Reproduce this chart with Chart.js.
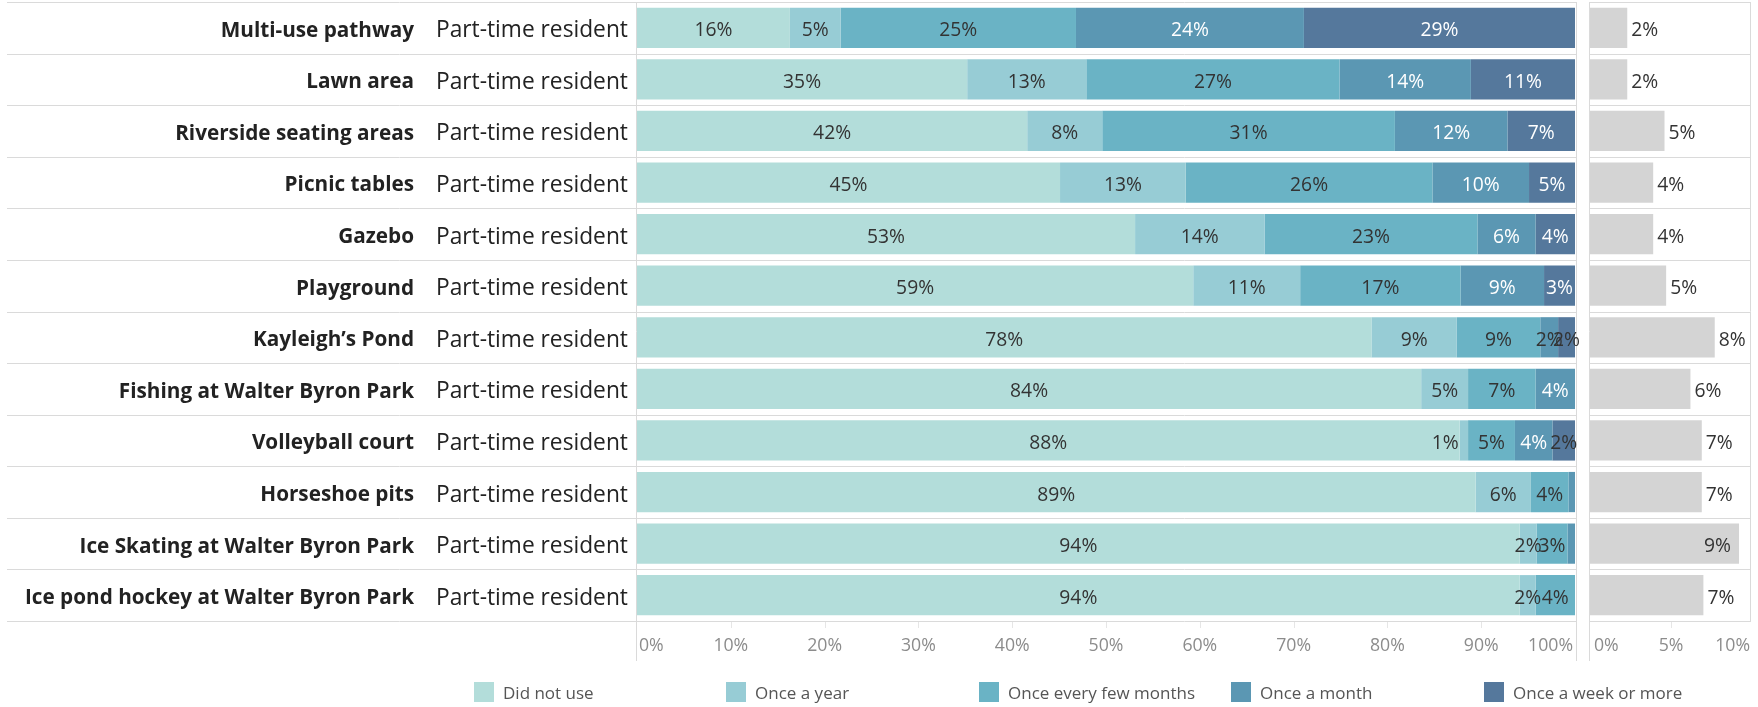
<!DOCTYPE html>
<html>
<head>
<meta charset="utf-8">
<script src="https://cdn.jsdelivr.net/npm/chart.js@4.4.1/dist/chart.umd.min.js"></script>
<style>
  html, body { margin: 0; padding: 0; background: #fff; }
  #wrap { position: relative; width: 1758px; height: 707px; overflow: hidden; font-family: "Open Sans", sans-serif; }
  #mainBox { position: absolute; left: 0; top: 0; width: 1582px; height: 707px; }
  #sideBox { position: absolute; left: 1582px; top: 0; width: 176px; height: 707px; }
  #legend { position: absolute; left: 0; top: 681px; width: 1758px; height: 22px; }
  .lg { position: absolute; top: 0; height: 22px; display: flex; align-items: center; font-size: 17px; color: #555; white-space: nowrap; }
  .lg i { display: inline-block; width: 20px; height: 20px; margin-right: 9px; }
</style>
</head>
<body>
<div id="wrap">
  <div id="mainBox"><canvas id="mainChart" width="1582" height="707"></canvas></div>
  <div id="sideBox"><canvas id="sideChart" width="176" height="707"></canvas></div>
  <div id="legend"></div>
</div>
<script>
// facilities, top to bottom
var categories = [
  "Multi-use pathway",
  "Lawn area",
  "Riverside seating areas",
  "Picnic tables",
  "Gazebo",
  "Playground",
  "Kayleigh\u2019s Pond",
  "Fishing at Walter Byron Park",
  "Volleyball court",
  "Horseshoe pits",
  "Ice Skating at Walter Byron Park",
  "Ice pond hockey at Walter Byron Park"
];
var groupLabel = "Part-time resident";

var seriesNames = ["Did not use", "Once a year", "Once every few months", "Once a month", "Once a week or more"];
var seriesColors = ["#b3ddda", "#97ccd5", "#6ab3c5", "#5b97b3", "#55789c"];

// percent of respondents
var didNotUse      = [16.3, 35.2, 41.6, 45.1, 53.1, 59.3, 78.3, 83.6, 87.7, 89.4, 94.1, 94.1];
var onceAYear      = [5.4, 12.7, 8.0, 13.4, 13.8, 11.4, 9.1, 5.0, 0.9, 5.9, 1.8, 1.7];
var everyFewMonths = [25.1, 27.0, 31.2, 26.3, 22.7, 17.1, 8.9, 7.2, 5.0, 4.0, 3.3, 4.2];
var onceAMonth     = [24.3, 14.0, 12.0, 10.3, 6.2, 8.9, 1.9, 4.2, 4.0, 0.7, 0.8, 0];
var weekOrMore     = [28.9, 11.1, 7.2, 4.9, 4.2, 3.3, 1.8, 0, 2.4, 0, 0, 0];

// grey side panel
var noAnswer = [2.3, 2.3, 4.6, 3.9, 3.9, 4.7, 7.7, 6.2, 6.9, 6.9, 9.2, 7.0];

var mainTicks = [0, 10, 20, 30, 40, 50, 60, 70, 80, 90, 100];
var sideTicks = [0, 5, 10];

var LINE = "#dadada";
var DARK = "#333333";
var AXIS_TXT = "#8c8c8c";
var FONT = "\"Open Sans\", sans-serif";
var TEXT_DY = 3;

// font sizes picked so the text spans what the original shows
function fitSize(text, weight, target) {
  var c = document.createElement("canvas").getContext("2d");
  c.font = weight + " 20px " + FONT;
  return (20 * target / c.measureText(text).width).toFixed(2);
}
var catSize = fitSize("Ice pond hockey at Walter Byron Park", "bold", 389);
var groupSize = fitSize(groupLabel, "normal", 192);
var valueSize = fitSize("29%", "normal", 38);
var tickSize = fitSize("100%", "normal", 45);

function pct(v) { return Math.round(v) + "%"; }

function rowEdges(chart) {
  var n = categories.length;
  var band = (chart.chartArea.bottom - chart.chartArea.top) / n;
  var edges = [];
  for (var i = 0; i <= n; i++) edges.push(Math.round(chart.chartArea.top + i * band) + 0.5);
  return edges;
}

function hline(ctx, x1, x2, y) {
  ctx.beginPath(); ctx.moveTo(x1, y); ctx.lineTo(x2, y); ctx.stroke();
}
function vline(ctx, x, y1, y2) {
  ctx.beginPath(); ctx.moveTo(x, y1); ctx.lineTo(x, y2); ctx.stroke();
}

function drawTickLabels(chart, ticks, first, last) {
  var ctx = chart.ctx, xs = chart.scales.x, area = chart.chartArea;
  ctx.save();
  ctx.strokeStyle = "#e6e6e6";
  ctx.lineWidth = 1;
  ctx.font = tickSize + "px " + FONT;
  ctx.fillStyle = AXIS_TXT;
  ctx.textBaseline = "middle";
  ticks.forEach(function (t, i) {
    var x = xs.getPixelForValue(t);
    if (i > 0 && i < ticks.length - 1) vline(ctx, Math.round(x) + 0.5, area.bottom + 1, area.bottom + 7);
    if (i === 0) { ctx.textAlign = "left"; x = area.left + first; }
    else if (i === ticks.length - 1) { ctx.textAlign = "right"; x = area.right - last; }
    else ctx.textAlign = "center";
    ctx.fillText(t + "%", x, area.bottom + 25);
  });
  ctx.restore();
}

var mainDecor = {
  id: "mainDecor",
  beforeDatasetsDraw: function (chart) {
    var ctx = chart.ctx, area = chart.chartArea;
    var edges = rowEdges(chart);
    ctx.save();
    ctx.strokeStyle = LINE;
    ctx.lineWidth = 1;
    edges.forEach(function (y) { hline(ctx, 7, area.right + 2, y); });
    vline(ctx, area.left - 0.5, area.top, area.bottom + 40);
    vline(ctx, area.right + 1.5, area.top, area.bottom + 40);
    ctx.restore();
  },
  afterDatasetsDraw: function (chart) {
    var ctx = chart.ctx, ys = chart.scales.y;
    ctx.save();
    ctx.textBaseline = "middle";
    ctx.font = valueSize + "px " + FONT;
    chart.data.datasets.forEach(function (ds, di) {
      var meta = chart.getDatasetMeta(di);
      meta.data.forEach(function (el, i) {
        var v = ds.data[i];
        if (!(v >= 0.85)) return;
        var p = el.getProps(["x", "base", "y"], true);
        var w = Math.abs(p.x - p.base);
        var txt = pct(v);
        var tw = ctx.measureText(txt).width;
        ctx.fillStyle = (di >= 3 && tw + 2 < w) ? "#ffffff" : DARK;
        if (tw > w + 12) {
          // sliver: label pushed to the left of its segment
          ctx.textAlign = "right";
          ctx.fillText(txt, Math.min(p.x, p.base) - 1, p.y + TEXT_DY);
        } else {
          ctx.textAlign = "center";
          ctx.fillText(txt, (p.x + p.base) / 2, p.y + TEXT_DY);
        }
      });
    });
    categories.forEach(function (c, i) {
      var y = ys.getPixelForValue(i) + TEXT_DY;
      ctx.fillStyle = "#222";
      ctx.textAlign = "right";
      ctx.font = "bold " + catSize + "px " + FONT;
      ctx.fillText(c, 414, y);
      ctx.textAlign = "left";
      ctx.font = groupSize + "px " + FONT;
      ctx.fillText(groupLabel, 436, y);
    });
    ctx.restore();
    drawTickLabels(chart, mainTicks, 2, 2);
  }
};

var sideDecor = {
  id: "sideDecor",
  beforeDatasetsDraw: function (chart) {
    var ctx = chart.ctx, area = chart.chartArea;
    var edges = rowEdges(chart);
    ctx.save();
    ctx.strokeStyle = LINE;
    ctx.lineWidth = 1;
    edges.forEach(function (y) { hline(ctx, area.left - 1, area.right - 1, y); });
    vline(ctx, area.left - 0.5, area.top, area.bottom + 40);
    vline(ctx, area.right - 1.5, area.top, area.bottom);
    ctx.restore();
  },
  afterDatasetsDraw: function (chart) {
    var ctx = chart.ctx, area = chart.chartArea;
    var meta = chart.getDatasetMeta(0);
    ctx.save();
    ctx.textBaseline = "middle";
    ctx.font = valueSize + "px " + FONT;
    ctx.fillStyle = DARK;
    meta.data.forEach(function (el, i) {
      var p = el.getProps(["x", "y"], true);
      var txt = pct(noAnswer[i]);
      var tw = ctx.measureText(txt).width;
      if (p.x + 4 + tw > area.right) {
        ctx.textAlign = "right";
        ctx.fillText(txt, p.x - 8, p.y + TEXT_DY);
      } else {
        ctx.textAlign = "left";
        ctx.fillText(txt, p.x + 4, p.y + TEXT_DY);
      }
    });
    ctx.restore();
    drawTickLabels(chart, sideTicks, 4, 2);
  }
};

var seriesData = [didNotUse, onceAYear, everyFewMonths, onceAMonth, weekOrMore];

var mainChart = new Chart(document.getElementById("mainChart").getContext("2d"), {
  type: "bar",
  data: {
    labels: categories,
    datasets: seriesData.map(function (d, i) {
      return {
        label: seriesNames[i],
        data: d,
        backgroundColor: seriesColors[i],
        borderWidth: 0,
        categoryPercentage: 1,
        barPercentage: 0.78
      };
    })
  },
  options: {
    indexAxis: "y",
    responsive: false,
    animation: false,
    layout: { padding: { left: 637, right: 7, top: 2, bottom: 86 } },
    plugins: { legend: { display: false }, tooltip: { enabled: false } },
    scales: {
      x: { display: false, stacked: true, min: 0, max: 100 },
      y: { display: false, stacked: true }
    }
  },
  plugins: [mainDecor]
});

var sideChart = new Chart(document.getElementById("sideChart").getContext("2d"), {
  type: "bar",
  data: {
    labels: categories,
    datasets: [{
      label: "No answer",
      data: noAnswer,
      backgroundColor: "#d4d4d4",
      borderWidth: 0,
      categoryPercentage: 1,
      barPercentage: 0.78
    }]
  },
  options: {
    indexAxis: "y",
    responsive: false,
    animation: false,
    layout: { padding: { left: 8, right: 6, top: 2, bottom: 86 } },
    plugins: { legend: { display: false }, tooltip: { enabled: false } },
    scales: {
      x: { display: false, min: 0, max: 10 },
      y: { display: false }
    }
  },
  plugins: [sideDecor]
});

// legend, one column per series
var legendLeft = [474, 726, 979, 1231, 1484];
var legendEl = document.getElementById("legend");
seriesNames.forEach(function (name, i) {
  var item = document.createElement("div");
  item.className = "lg";
  item.style.left = legendLeft[i] + "px";
  item.innerHTML = '<i style="background:' + seriesColors[i] + '"></i><span>' + name + '</span>';
  legendEl.appendChild(item);
});
</script>
</body>
</html>
